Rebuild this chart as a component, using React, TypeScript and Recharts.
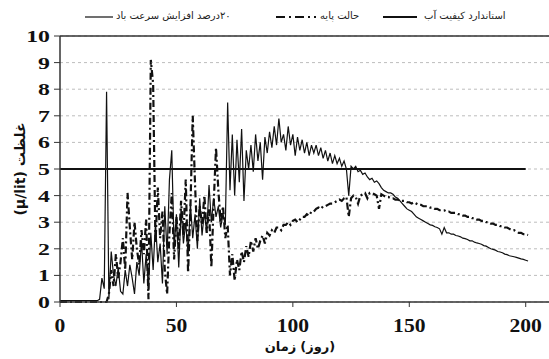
import React from "react";
import {
  LineChart,
  Line,
  XAxis,
  YAxis,
  CartesianGrid,
  ReferenceLine,
} from "recharts";

// days 0..201
const days: number[] = Array.from({ length: 202 }, (_, i) => i);

// 20% wind speed increase (thin solid line)
const windUp20: number[] = [
  0.05, 0.05, 0.05, 0.05, 0.05, 0.05, 0.05, 0.05, 0.05, 0.05,
  0.05, 0.05, 0.05, 0.05, 0.05, 0.05, 0.05, 0.1, 0.9, 0.5,
  7.9, 0.1, 1.9, 1.0, 0.6, 1.3, 0.4, 0.3, 1.2, 0.6,
  1.4, 0.9, 0.3, 1.5, 1.0, 2.3, 0.7, 1.8, 0.5, 2.6,
  1.2, 3.0, 1.5, 2.2, 0.7, 3.6, 1.8, 4.6, 5.7, 2.0,
  3.3, 1.3, 3.5, 2.2, 3.0, 1.8, 3.7, 2.4, 3.3, 2.0,
  3.9, 2.5, 3.4, 2.6, 4.4, 3.0, 3.9, 3.2, 3.6, 2.8,
  3.3, 2.9, 7.5, 4.2, 6.3, 4.0, 6.1, 4.5, 6.5, 3.8,
  5.7, 5.0, 5.9, 4.9, 6.3, 5.3, 6.0, 4.6, 6.2, 5.6,
  6.4, 5.8, 6.6, 5.9, 6.9, 6.0, 6.3, 5.7, 6.6, 5.9,
  6.3, 5.5, 6.2, 5.7, 6.1, 5.6, 6.0, 5.5, 5.9, 5.6,
  5.9, 5.5, 5.8, 5.4, 5.7, 5.3, 5.6, 5.2, 5.5, 5.2,
  5.4, 5.1, 5.3, 5.0, 4.0, 5.1, 5.0, 5.1, 4.9, 4.95,
  4.8, 4.85, 4.7, 4.6, 4.65, 4.5, 4.55, 4.45, 4.3, 4.2,
  4.15, 4.1, 4.1, 4.05, 3.95, 3.9, 3.8, 3.7, 3.6, 3.5,
  3.45, 3.4, 3.3, 3.2, 3.15, 3.1, 3.05, 3.0, 2.95, 2.9,
  2.88, 2.83, 2.8, 2.75, 2.55, 2.8, 2.6, 2.6, 2.55, 2.55,
  2.5, 2.48, 2.45, 2.4, 2.38, 2.35, 2.3, 2.3, 2.25, 2.22,
  2.2, 2.17, 2.12, 2.1, 2.05, 2.0, 1.98, 1.95, 1.9, 1.88,
  1.85, 1.8, 1.78, 1.74, 1.72, 1.7, 1.68, 1.65, 1.62, 1.6,
  1.57, 1.54,
];

// base case (dash-dot line)
const baseCase: number[] = [
  0, 0, 0, 0, 0, 0, 0, 0, 0, 0,
  0, 0, 0, 0, 0, 0, 0, 0, 0, 0,
  0, 0.3, 1.2, 0.6, 1.8, 0.9, 1.5, 2.4, 1.2, 4.1,
  2.8, 1.6, 3.0, 2.0, 1.4, 2.7, 1.8, 3.1, 0.1, 9.1,
  8.2, 2.2, 4.3, 2.4, 3.4, 1.2, 0.3, 2.6, 4.1, 1.6,
  3.2, 2.0, 3.8, 2.5, 4.6, 1.1, 3.5, 7.0, 4.4, 2.3,
  3.6, 2.9, 4.0, 2.6, 3.5, 1.3, 3.7, 5.8, 4.2, 3.0,
  3.6, 2.4, 2.9, 1.0, 1.8, 0.8, 1.6, 1.2, 1.9, 1.5,
  2.1, 1.7, 2.3, 1.9, 2.4, 2.0, 2.3, 2.5, 2.2, 2.6,
  2.5, 2.7, 2.6, 2.8, 2.8, 2.7, 2.9, 2.9, 3.0, 2.9,
  3.05, 3.1, 3.0, 3.1, 3.2, 3.2, 3.3, 3.25, 3.4, 3.4,
  3.5, 3.55, 3.5, 3.6, 3.6, 3.65, 3.7, 3.7, 3.75, 3.8,
  3.85, 3.8, 3.9, 3.95, 3.2, 3.9, 4.0, 3.95, 3.7, 4.0,
  4.05, 4.1, 3.9, 4.1, 4.1, 4.05, 4.0, 3.5, 4.05, 4.0,
  3.95, 3.95, 3.9, 3.9, 3.85, 3.85, 3.8, 3.8, 3.8, 3.75,
  3.75, 3.7, 3.75, 3.7, 3.65, 3.65, 3.6, 3.6, 3.6, 3.55,
  3.55, 3.5, 3.5, 3.45, 3.45, 3.45, 3.4, 3.4, 3.35, 3.35,
  3.35, 3.3, 3.3, 3.25, 3.25, 3.2, 3.2, 3.15, 3.15, 3.1,
  3.1, 3.05, 3.05, 3.0, 3.0, 2.95, 2.95, 2.9, 2.9, 2.85,
  2.85, 2.8, 2.8, 2.75, 2.7, 2.7, 2.65, 2.6, 2.6, 2.55,
  2.55, 2.52,
];

// water quality standard
const standardDays: number[] = [0, 200];
const standardValues: number[] = [5, 5];

const xTicks = [0, 50, 100, 150, 200];
const yTicks = [0, 1, 2, 3, 4, 5, 6, 7, 8, 9, 10];

const data = days.map((d, i) => ({ day: d, wind: windUp20[i], base: baseCase[i] }));
const standardData = standardDays.map((d, i) => ({ day: d, std: standardValues[i] }));

const serif = "'Liberation Serif', 'Times New Roman', 'DejaVu Serif', serif";
const farsi = "'DejaVu Sans', sans-serif";

const XTick = (props: any) => {
  const { x, payload } = props;
  return (
    <text
      transform={`translate(${x},332) scale(1.2,1)`}
      textAnchor="middle"
      style={{ fontFamily: serif, fontSize: 18, fontWeight: 700, fill: "#111" }}
    >
      {payload.value}
    </text>
  );
};

const YTick = (props: any) => {
  const { x, y, payload } = props;
  return (
    <text
      transform={`translate(${x - 2},${y + 6}) scale(1.4,1)`}
      textAnchor="end"
      style={{ fontFamily: serif, fontSize: 17, fontWeight: 700, fill: "#111" }}
    >
      {payload.value}
    </text>
  );
};

function LegendItem(props: {
  label: string;
  lineLeft: number;
  lineWidth: number;
  textLeft: number;
  stroke: number;
  dash?: string;
}) {
  const { label, lineLeft, lineWidth, textLeft, stroke, dash } = props;
  return (
    <>
      <svg
        width={lineWidth}
        height={6}
        style={{ position: "absolute", left: lineLeft, top: 14 }}
      >
        <line x1={0} y1={3} x2={lineWidth} y2={3} stroke="#111" strokeWidth={stroke} strokeDasharray={dash} />
      </svg>
      <span
        style={{
          position: "absolute",
          left: textLeft,
          top: 9,
          fontFamily: farsi,
          fontSize: 10,
          lineHeight: "14px",
          color: "#222",
          direction: "rtl",
          unicodeBidi: "isolate",
          whiteSpace: "nowrap",
        }}
      >
        {label}
      </span>
    </>
  );
}

export default function App() {
  return (
    <div style={{ position: "absolute", left: 0, top: 0, width: 549, height: 359, background: "#fff" }}>
      <LegendItem label="۲۰درصد افزایش سرعت باد" lineLeft={85} lineWidth={28} textLeft={116} stroke={1.2} />
      <LegendItem label="حالت پایه" lineLeft={276} lineWidth={40} textLeft={320} stroke={2} dash="9 4 2 4" />
      <LegendItem label="استاندارد کیفیت آب" lineLeft={383} lineWidth={34} textLeft={424} stroke={2.2} />
      <div
        style={{
          position: "absolute",
          left: 0,
          width: 600,
          top: 339,
          display: "flex",
          justifyContent: "center",
          gap: 4,
          direction: "ltr",
          fontFamily: farsi,
          fontSize: 13,
          fontWeight: "bold",
          color: "#111",
          whiteSpace: "nowrap",
        }}
      >
        <span style={{ direction: "rtl", unicodeBidi: "isolate" }}>زمان</span>
        <span style={{ direction: "ltr", unicodeBidi: "isolate" }}>(روز)</span>
      </div>
      <div
        style={{
          position: "absolute",
          left: 20,
          top: 169,
          transform: "translate(-50%, -50%) rotate(-90deg)",
          fontFamily: farsi,
          fontSize: 14,
          fontWeight: "bold",
          color: "#111",
          whiteSpace: "nowrap",
          direction: "ltr",
        }}
      >
        {"(μ/lit) غلظت"}
      </div>
      <LineChart
        width={549}
        height={359}
        data={data}
        margin={{ top: 36, right: 0, left: 0, bottom: 0 }}
      >
        <CartesianGrid horizontal vertical={false} stroke="#bdbdbd" strokeDasharray="3 3" />
        <ReferenceLine y={10} stroke="#333" strokeWidth={1.5} />
        <XAxis
          dataKey="day"
          type="number"
          domain={[0, 210]}
          ticks={xTicks}
          allowDataOverflow
          height={57}
          axisLine={{ stroke: "#333", strokeWidth: 1.5 }}
          tickLine={{ stroke: "#333" }}
          tickSize={5}
          tick={<XTick />}
        />
        <YAxis
          domain={[0, 10]}
          ticks={yTicks}
          width={60}
          interval={0}
          axisLine={{ stroke: "#333", strokeWidth: 1.5 }}
          tickLine={{ stroke: "#333" }}
          tickSize={6}
          tick={<YTick />}
        />
        <Line
          dataKey="base"
          type="linear"
          stroke="#111"
          strokeWidth={2.2}
          strokeDasharray="7 3 2 3"
          dot={false}
          isAnimationActive={false}
        />
        <Line
          dataKey="wind"
          type="linear"
          stroke="#111"
          strokeWidth={1.2}
          dot={false}
          isAnimationActive={false}
        />
        <Line
          data={standardData}
          dataKey="std"
          type="linear"
          stroke="#111"
          strokeWidth={2.2}
          dot={false}
          isAnimationActive={false}
        />
      </LineChart>
    </div>
  );
}
